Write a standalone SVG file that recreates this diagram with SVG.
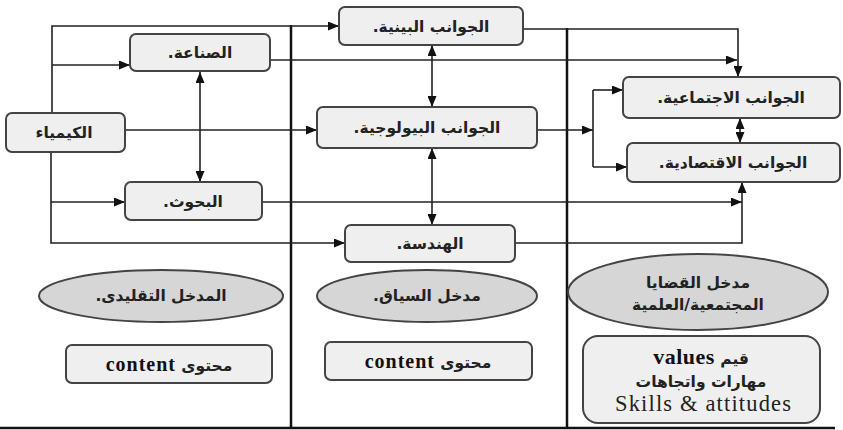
<svg xmlns="http://www.w3.org/2000/svg" width="843" height="430" viewBox="0 0 843 430">
<defs>
<marker id="ah" markerWidth="11" markerHeight="9" refX="11" refY="4.5" orient="auto-start-reverse" markerUnits="userSpaceOnUse">
<path d="M0,0 L11,4.5 L0,9 z" fill="#111"/>
</marker>
<style>
.box{fill:#efefef;stroke:#444;stroke-width:2}
.ell{fill:#d6d6d6;stroke:#444;stroke-width:2}
.ar{font-family:"DejaVu Sans",sans-serif;font-weight:bold;font-size:15.5px;fill:#222;text-anchor:middle;direction:rtl}
.lat{font-family:"Liberation Serif",serif;font-weight:bold;font-size:20px;letter-spacing:1px;fill:#111}
.lat2{font-family:"Liberation Serif",serif;font-weight:bold;font-size:22px;letter-spacing:0.5px;fill:#111}
.ser{font-family:"Liberation Serif",serif;font-size:22.5px;fill:#222;text-anchor:middle}
.c{fill:none;stroke:#222;stroke-width:1.6}
.a{marker-end:url(#ah)}
.d{marker-start:url(#ah);marker-end:url(#ah)}
.div{stroke:#111;stroke-width:2.5;fill:none}
</style>
</defs>
<rect width="843" height="430" fill="#fff"/>
<g id="frame">
<line class="div" x1="291" y1="25" x2="291" y2="428"/>
<line class="div" x1="567" y1="28" x2="567" y2="428"/>
<line class="div" x1="0" y1="428" x2="835" y2="428"/>
</g>
<g id="connectors">
<path class="c a" d="M52,113 V26 H339"/>
<path class="c a" d="M52,65 H130"/>
<path class="c a" d="M51,152 V243 H345"/>
<path class="c a" d="M51,202 H125"/>
<path class="c a" d="M125,130 H317"/>
<path class="c a" d="M270,60 H737"/>
<path class="c a" d="M523,29 H738 V77"/>
<path class="c a" d="M537,130 H593"/>
<path class="c" d="M593,90 V167"/>
<path class="c a" d="M593,90 H623"/>
<path class="c a" d="M593,167 H627"/>
<path class="c a" d="M262,202 H742"/>
<path class="c a" d="M515,243 H742 V182"/>
<path class="c d" d="M200,72 V182"/>
<path class="c d" d="M432,45 V107"/>
<path class="c d" d="M432,148 V225"/>
<path class="c d" d="M740,118 V143"/>
</g>
<g id="kimia"><rect class="box" x="6" y="113" width="119" height="39" rx="6"/><text class="ar" x="64" y="138">الكيمياء</text></g>
<g id="sinaa"><rect class="box" x="130" y="34" width="140" height="37" rx="6"/><text class="ar" x="200" y="58">الصناعة.</text></g>
<g id="buhuth"><rect class="box" x="125" y="182" width="137" height="38" rx="6"/><text class="ar" x="193" y="207">البحوث.</text></g>
<g id="bayniya"><rect class="box" x="339" y="7" width="184" height="38" rx="6"/><text class="ar" x="431" y="32">الجوانب البينية.</text></g>
<g id="biology"><rect class="box" x="317" y="107" width="220" height="41" rx="6"/><text class="ar" x="427" y="133">الجوانب البيولوجية.</text></g>
<g id="handasa"><rect class="box" x="345" y="225" width="170" height="37" rx="6"/><text class="ar" x="430" y="249">الهندسة.</text></g>
<g id="ijtima"><rect class="box" x="623" y="77" width="217" height="41" rx="6"/><text class="ar" x="731" y="103">الجوانب الاجتماعية.</text></g>
<g id="iqtisad"><rect class="box" x="627" y="143" width="213" height="39" rx="6"/><text class="ar" x="733" y="168">الجوانب الاقتصادية.</text></g>
<g id="traditional"><ellipse class="ell" cx="161" cy="296" rx="122" ry="26"/><text class="ar" x="161" y="301">المدخل التقليدى.</text></g>
<g id="context"><ellipse class="ell" cx="427" cy="296" rx="110" ry="26"/><text class="ar" x="427" y="301">مدخل السياق.</text></g>
<g id="issues"><ellipse class="ell" cx="698" cy="292" rx="130" ry="38"/><text class="ar" x="698" y="288">مدخل القضايا</text><text class="ar" x="698" y="310">المجتمعية/العلمية</text></g>
<g id="content1"><rect class="box" x="66" y="345" width="206" height="38" rx="6"/><text class="ar" x="169" y="371">محتوى <tspan class="lat">content</tspan></text></g>
<g id="content2"><rect class="box" x="325" y="342" width="207" height="38" rx="6"/><text class="ar" x="428" y="368">محتوى <tspan class="lat">content</tspan></text></g>
<g id="values"><rect class="box" x="583" y="336" width="237" height="87" rx="15"/><text class="ar" x="701" y="364">قيم <tspan class="lat2">values</tspan></text><text class="ar" x="701" y="387">مهارات واتجاهات</text><text class="ser" x="703" y="411" textLength="176" lengthAdjust="spacing">Skills &amp; attitudes</text></g>
</svg>
